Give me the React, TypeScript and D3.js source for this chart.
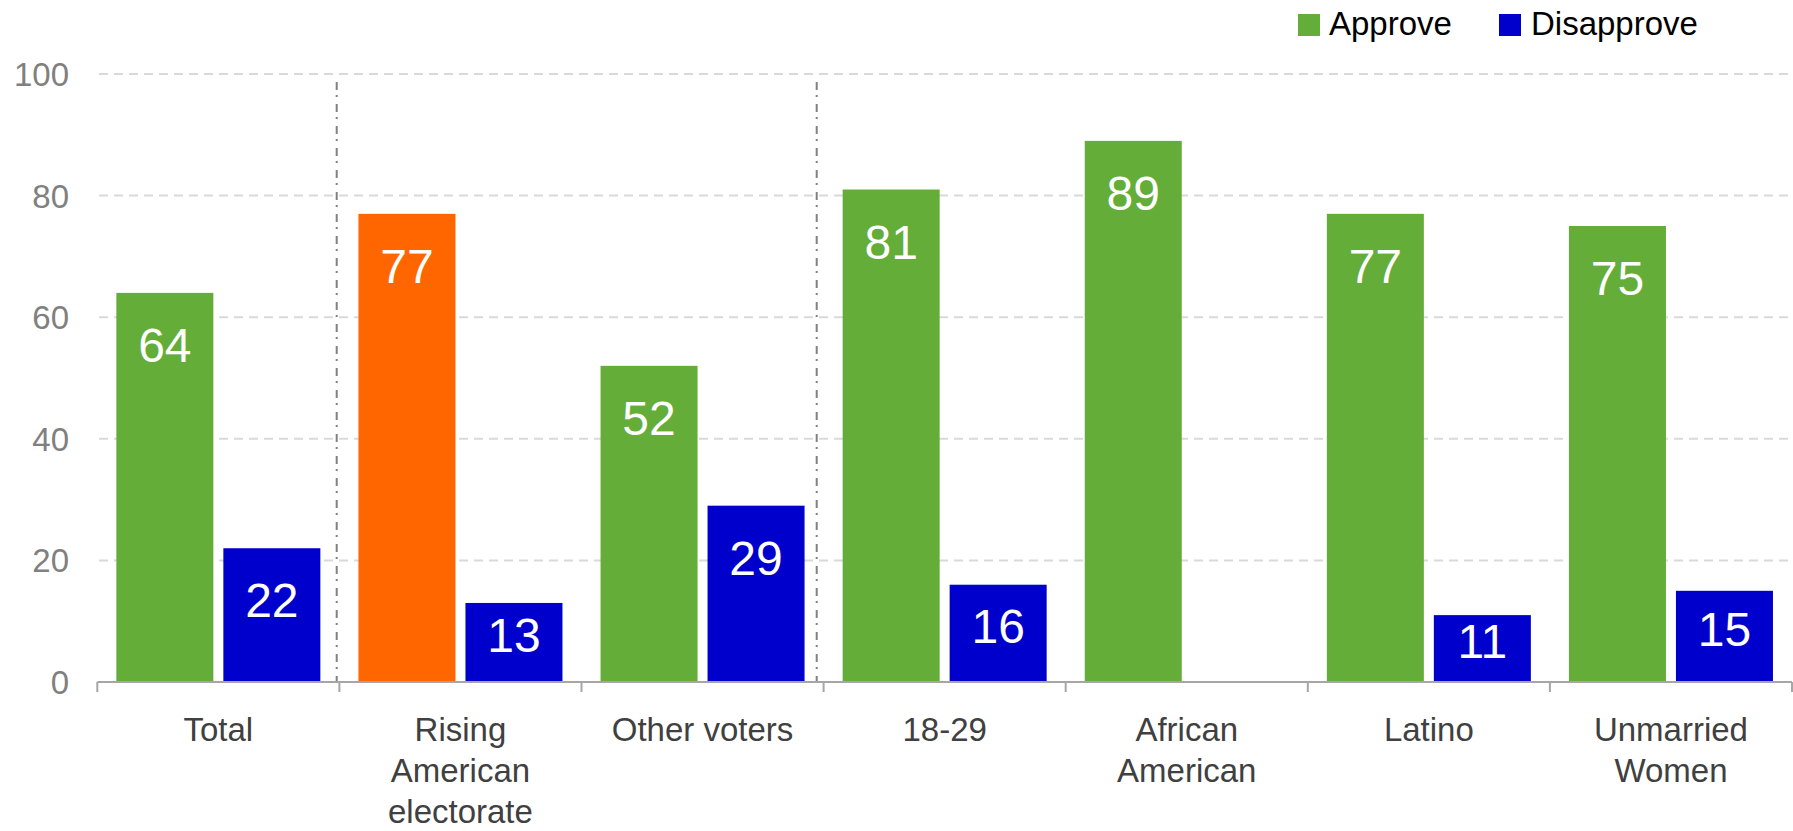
import React from "react";
import * as d3 from "d3";

const categories: string[][] = [
  ["Total"],
  ["Rising", "American", "electorate"],
  ["Other voters"],
  ["18-29"],
  ["African", "American"],
  ["Latino"],
  ["Unmarried", "Women"],
];
const seriesNames = ["Approve", "Disapprove"];
const approve: number[] = [64, 77, 52, 81, 89, 77, 75];
const disapprove: (number | null)[] = [22, 13, 29, 16, null, 11, 15];
const highlightIndex = 1; // Rising American electorate approve bar is orange
const yTicks = [0, 20, 40, 60, 80, 100];
const separatorsAfter = [0, 2]; // group separators after these category indexes

const W = 1793;
const H = 831;
const colors = { Approve: "#63AD38", Disapprove: "#0000CC", highlight: "#FF6600" };
const FONT = "'Liberation Sans', Arial, Helvetica, sans-serif";

export default function App() {
  const left = 97.3;
  const right = 1792;
  const y0 = 682;
  const y100 = 74;

  const keys = categories.map((c) => c.join(" "));
  const x = d3.scaleBand<string>().domain(keys).range([left, right]).paddingInner(0).paddingOuter(0);
  const bw = x.bandwidth();
  const xs = d3
    .scaleBand<string>()
    .domain(seriesNames)
    .range([0, bw])
    .paddingInner(10 / 107)
    .paddingOuter(0.178);
  const y = d3.scaleLinear().domain([0, 100]).range([y0, y100]);

  const valueFont = 48;
  const bars: any[] = [];
  keys.forEach((k, i) => {
    const vals = [approve[i], disapprove[i]];
    vals.forEach((v, j) => {
      if (v === null || v === undefined) return;
      const s = seriesNames[j];
      const bx = (x(k) as number) + (xs(s) as number);
      const top = y(v);
      const h = y0 - top;
      const fill = j === 0 && i === highlightIndex ? colors.highlight : (colors as any)[s];
      const center = Math.min(top + 52, top + h / 2 - 8);
      const baseline = center + 0.716 * valueFont / 2;
      bars.push(
        <g key={k + s}>
          <rect x={bx} y={top} width={xs.bandwidth()} height={h} fill={fill} />
          <text
            x={bx + xs.bandwidth() / 2}
            y={baseline}
            textAnchor="middle"
            fontSize={valueFont}
            fill="#ffffff"
            fontFamily={FONT}
          >
            {v}
          </text>
        </g>
      );
    });
  });

  const sepOffsets = [-2.7, -6.9];

  return (
    <svg
      width={W}
      height={H}
      style={{ position: "absolute", left: 0, top: 0, background: "#fff" }}
      fontFamily={FONT}
    >
      {/* gridlines */}
      {yTicks
        .filter((t) => t > 0)
        .map((t) => (
          <line
            key={"g" + t}
            x1={99}
            x2={right}
            y1={y(t)}
            y2={y(t)}
            stroke="#D9D9D9"
            strokeWidth={2}
            strokeDasharray="9,6"
          />
        ))}
      {/* y tick labels */}
      {yTicks.map((t) => (
        <text
          key={"t" + t}
          x={69}
          y={y(t) + 12}
          textAnchor="end"
          fontSize={33}
          fill="#808080"
        >
          {t}
        </text>
      ))}
      {/* group separators */}
      {separatorsAfter.map((i, n) => {
        const xx = (x(keys[i]) as number) + bw + sepOffsets[n];
        return (
          <line
            key={"s" + i}
            x1={xx}
            x2={xx}
            y1={82}
            y2={y0}
            stroke="#808080"
            strokeWidth={2}
            strokeDasharray="8,5,2,7"
          />
        );
      })}
      {bars}
      {/* x axis */}
      <line x1={left} x2={right} y1={y0} y2={y0} stroke="#A6A6A6" strokeWidth={2} />
      {keys.map((k) => (
        <line
          key={"tk" + k}
          x1={x(k) as number}
          x2={x(k) as number}
          y1={y0}
          y2={y0 + 10}
          stroke="#A6A6A6"
          strokeWidth={2}
        />
      ))}
      <line x1={right} x2={right} y1={y0} y2={y0 + 10} stroke="#A6A6A6" strokeWidth={2} />
      {/* category labels */}
      {categories.map((lines, i) => (
        <text
          key={"c" + i}
          x={(x(keys[i]) as number) + bw / 2}
          y={741}
          textAnchor="middle"
          fontSize={33}
          fill="#404040"
        >
          {lines.map((l, j) => (
            <tspan key={j} x={(x(keys[i]) as number) + bw / 2} dy={j === 0 ? 0 : 41}>
              {l}
            </tspan>
          ))}
        </text>
      ))}
      {/* legend */}
      <rect x={1298} y={14} width={22} height={22} fill={colors.Approve} />
      <text x={1329} y={35} fontSize={33} fill="#000">
        Approve
      </text>
      <rect x={1499} y={14} width={22} height={22} fill={colors.Disapprove} />
      <text x={1531} y={35} fontSize={33} fill="#000">
        Disapprove
      </text>
    </svg>
  );
}
